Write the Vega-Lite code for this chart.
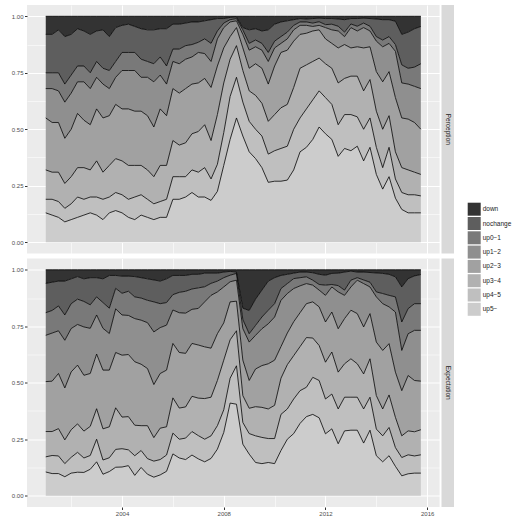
{
"$schema": "https://vega.github.io/schema/vega-lite/v6.json",
"background": "white",
"padding": {"left": 8, "top": 5, "right": 5, "bottom": 5},
"config": {
  "font": "Liberation Sans",
  "view": {"stroke": null},
  "axis": {"labelFont": "Liberation Sans", "labelColor": "#4D4D4D", "labelFontSize": 6, "tickColor": "#333333", "tickSize": 2.5, "labelPadding": 1.5, "domain": false, "title": null, "gridColor": "#FFFFFF"},
  "legend": {"labelColor": "#1A1A1A", "labelFont": "Liberation Sans"}
},
"datasets": {"d": [
{"P":"Perception","y":2001,"up5−":0.13,"up4−5":0.06,"up3−4":0.13,"up2−3":0.23,"up1−2":0.13,"up0−1":0.07,"nochange":0.17,"down":0.08},
{"P":"Perception","y":2001.25,"up5−":0.12,"up4−5":0.07,"up3−4":0.12,"up2−3":0.22,"up1−2":0.15,"up0−1":0.07,"nochange":0.17,"down":0.08},
{"P":"Perception","y":2001.5,"up5−":0.11,"up4−5":0.07,"up3−4":0.13,"up2−3":0.22,"up1−2":0.14,"up0−1":0.08,"nochange":0.19,"down":0.06},
{"P":"Perception","y":2001.75,"up5−":0.09,"up4−5":0.06,"up3−4":0.11,"up2−3":0.20,"up1−2":0.16,"up0−1":0.08,"nochange":0.21,"down":0.09},
{"P":"Perception","y":2002,"up5−":0.10,"up4−5":0.07,"up3−4":0.12,"up2−3":0.21,"up1−2":0.16,"up0−1":0.08,"nochange":0.18,"down":0.08},
{"P":"Perception","y":2002.25,"up5−":0.11,"up4−5":0.09,"up3−4":0.13,"up2−3":0.24,"up1−2":0.14,"up0−1":0.07,"nochange":0.165,"down":0.055},
{"P":"Perception","y":2002.5,"up5−":0.12,"up4−5":0.07,"up3−4":0.14,"up2−3":0.21,"up1−2":0.17,"up0−1":0.07,"nochange":0.155,"down":0.065},
{"P":"Perception","y":2002.75,"up5−":0.13,"up4−5":0.07,"up3−4":0.12,"up2−3":0.20,"up1−2":0.16,"up0−1":0.07,"nochange":0.17,"down":0.08},
{"P":"Perception","y":2003,"up5−":0.12,"up4−5":0.08,"up3−4":0.16,"up2−3":0.23,"up1−2":0.14,"up0−1":0.07,"nochange":0.135,"down":0.065},
{"P":"Perception","y":2003.25,"up5−":0.10,"up4−5":0.09,"up3−4":0.12,"up2−3":0.24,"up1−2":0.15,"up0−1":0.07,"nochange":0.17,"down":0.06},
{"P":"Perception","y":2003.5,"up5−":0.13,"up4−5":0.07,"up3−4":0.14,"up2−3":0.22,"up1−2":0.12,"up0−1":0.08,"nochange":0.15,"down":0.09},
{"P":"Perception","y":2003.75,"up5−":0.14,"up4−5":0.08,"up3−4":0.15,"up2−3":0.24,"up1−2":0.12,"up0−1":0.07,"nochange":0.15,"down":0.05},
{"P":"Perception","y":2004,"up5−":0.13,"up4−5":0.08,"up3−4":0.15,"up2−3":0.23,"up1−2":0.17,"up0−1":0.08,"nochange":0.12,"down":0.04},
{"P":"Perception","y":2004.25,"up5−":0.11,"up4−5":0.08,"up3−4":0.15,"up2−3":0.25,"up1−2":0.17,"up0−1":0.08,"nochange":0.125,"down":0.035},
{"P":"Perception","y":2004.5,"up5−":0.10,"up4−5":0.10,"up3−4":0.14,"up2−3":0.24,"up1−2":0.18,"up0−1":0.08,"nochange":0.115,"down":0.045},
{"P":"Perception","y":2004.75,"up5−":0.12,"up4−5":0.09,"up3−4":0.13,"up2−3":0.24,"up1−2":0.15,"up0−1":0.08,"nochange":0.135,"down":0.055},
{"P":"Perception","y":2005,"up5−":0.11,"up4−5":0.08,"up3−4":0.13,"up2−3":0.24,"up1−2":0.17,"up0−1":0.07,"nochange":0.14,"down":0.06},
{"P":"Perception","y":2005.25,"up5−":0.10,"up4−5":0.07,"up3−4":0.12,"up2−3":0.22,"up1−2":0.20,"up0−1":0.08,"nochange":0.15,"down":0.06},
{"P":"Perception","y":2005.5,"up5−":0.11,"up4−5":0.07,"up3−4":0.16,"up2−3":0.25,"up1−2":0.15,"up0−1":0.08,"nochange":0.125,"down":0.055},
{"P":"Perception","y":2005.75,"up5−":0.11,"up4−5":0.08,"up3−4":0.15,"up2−3":0.22,"up1−2":0.14,"up0−1":0.08,"nochange":0.165,"down":0.055},
{"P":"Perception","y":2006,"up5−":0.19,"up4−5":0.10,"up3−4":0.16,"up2−3":0.23,"up1−2":0.12,"up0−1":0.055,"nochange":0.11,"down":0.035},
{"P":"Perception","y":2006.25,"up5−":0.19,"up4−5":0.10,"up3−4":0.14,"up2−3":0.23,"up1−2":0.13,"up0−1":0.065,"nochange":0.11,"down":0.035},
{"P":"Perception","y":2006.5,"up5−":0.20,"up4−5":0.09,"up3−4":0.15,"up2−3":0.24,"up1−2":0.13,"up0−1":0.06,"nochange":0.10,"down":0.03},
{"P":"Perception","y":2006.75,"up5−":0.22,"up4−5":0.10,"up3−4":0.16,"up2−3":0.22,"up1−2":0.12,"up0−1":0.055,"nochange":0.10,"down":0.025},
{"P":"Perception","y":2007,"up5−":0.20,"up4−5":0.11,"up3−4":0.18,"up2−3":0.215,"up1−2":0.135,"up0−1":0.045,"nochange":0.09,"down":0.025},
{"P":"Perception","y":2007.25,"up5−":0.20,"up4−5":0.13,"up3−4":0.19,"up2−3":0.205,"up1−2":0.11,"up0−1":0.065,"nochange":0.08,"down":0.02},
{"P":"Perception","y":2007.5,"up5−":0.185,"up4−5":0.095,"up3−4":0.17,"up2−3":0.235,"up1−2":0.115,"up0−1":0.08,"nochange":0.105,"down":0.015},
{"P":"Perception","y":2007.75,"up5−":0.225,"up4−5":0.12,"up3−4":0.22,"up2−3":0.215,"up1−2":0.12,"up0−1":0.035,"nochange":0.055,"down":0.01},
{"P":"Perception","y":2008,"up5−":0.34,"up4−5":0.145,"up3−4":0.22,"up2−3":0.155,"up1−2":0.09,"up0−1":0.02,"nochange":0.02,"down":0.01},
{"P":"Perception","y":2008.25,"up5−":0.455,"up4−5":0.19,"up3−4":0.165,"up2−3":0.10,"up1−2":0.065,"up0−1":0.01,"nochange":0.01,"down":0.005},
{"P":"Perception","y":2008.5,"up5−":0.55,"up4−5":0.18,"up3−4":0.14,"up2−3":0.08,"up1−2":0.03,"up0−1":0.01,"nochange":0.007,"down":0.003},
{"P":"Perception","y":2008.75,"up5−":0.47,"up4−5":0.15,"up3−4":0.14,"up2−3":0.10,"up1−2":0.06,"up0−1":0.02,"nochange":0.01,"down":0.05},
{"P":"Perception","y":2009,"up5−":0.40,"up4−5":0.135,"up3−4":0.135,"up2−3":0.10,"up1−2":0.08,"up0−1":0.03,"nochange":0.06,"down":0.06},
{"P":"Perception","y":2009.25,"up5−":0.37,"up4−5":0.13,"up3−4":0.15,"up2−3":0.14,"up1−2":0.075,"up0−1":0.03,"nochange":0.05,"down":0.055},
{"P":"Perception","y":2009.5,"up5−":0.33,"up4−5":0.14,"up3−4":0.145,"up2−3":0.155,"up1−2":0.08,"up0−1":0.03,"nochange":0.055,"down":0.065},
{"P":"Perception","y":2009.75,"up5−":0.265,"up4−5":0.125,"up3−4":0.145,"up2−3":0.165,"up1−2":0.10,"up0−1":0.04,"nochange":0.10,"down":0.06},
{"P":"Perception","y":2010,"up5−":0.27,"up4−5":0.135,"up3−4":0.16,"up2−3":0.215,"up1−2":0.08,"up0−1":0.03,"nochange":0.075,"down":0.035},
{"P":"Perception","y":2010.25,"up5−":0.27,"up4−5":0.145,"up3−4":0.18,"up2−3":0.245,"up1−2":0.04,"up0−1":0.03,"nochange":0.065,"down":0.025},
{"P":"Perception","y":2010.5,"up5−":0.275,"up4−5":0.15,"up3−4":0.185,"up2−3":0.24,"up1−2":0.05,"up0−1":0.03,"nochange":0.05,"down":0.02},
{"P":"Perception","y":2010.75,"up5−":0.32,"up4−5":0.18,"up3−4":0.185,"up2−3":0.205,"up1−2":0.05,"up0−1":0.02,"nochange":0.025,"down":0.015},
{"P":"Perception","y":2011,"up5−":0.40,"up4−5":0.15,"up3−4":0.22,"up2−3":0.15,"up1−2":0.04,"up0−1":0.015,"nochange":0.015,"down":0.01},
{"P":"Perception","y":2011.25,"up5−":0.42,"up4−5":0.17,"up3−4":0.195,"up2−3":0.14,"up1−2":0.035,"up0−1":0.015,"nochange":0.013,"down":0.012},
{"P":"Perception","y":2011.5,"up5−":0.455,"up4−5":0.175,"up3−4":0.17,"up2−3":0.135,"up1−2":0.02,"up0−1":0.015,"nochange":0.02,"down":0.01},
{"P":"Perception","y":2011.75,"up5−":0.51,"up4−5":0.16,"up3−4":0.145,"up2−3":0.125,"up1−2":0.02,"up0−1":0.016,"nochange":0.016,"down":0.008},
{"P":"Perception","y":2012,"up5−":0.48,"up4−5":0.16,"up3−4":0.15,"up2−3":0.11,"up1−2":0.05,"up0−1":0.013,"nochange":0.027,"down":0.01},
{"P":"Perception","y":2012.25,"up5−":0.455,"up4−5":0.155,"up3−4":0.16,"up2−3":0.11,"up1−2":0.06,"up0−1":0.025,"nochange":0.025,"down":0.01},
{"P":"Perception","y":2012.5,"up5−":0.38,"up4−5":0.14,"up3−4":0.185,"up2−3":0.155,"up1−2":0.075,"up0−1":0.021,"nochange":0.032,"down":0.012},
{"P":"Perception","y":2012.75,"up5−":0.415,"up4−5":0.15,"up3−4":0.16,"up2−3":0.15,"up1−2":0.035,"up0−1":0.02,"nochange":0.055,"down":0.015},
{"P":"Perception","y":2013,"up5−":0.405,"up4−5":0.16,"up3−4":0.17,"up2−3":0.125,"up1−2":0.09,"up0−1":0.016,"nochange":0.024,"down":0.01},
{"P":"Perception","y":2013.25,"up5−":0.425,"up4−5":0.13,"up3−4":0.18,"up2−3":0.13,"up1−2":0.07,"up0−1":0.021,"nochange":0.034,"down":0.01},
{"P":"Perception","y":2013.5,"up5−":0.36,"up4−5":0.14,"up3−4":0.17,"up2−3":0.19,"up1−2":0.09,"up0−1":0.02,"nochange":0.022,"down":0.008},
{"P":"Perception","y":2013.75,"up5−":0.42,"up4−5":0.13,"up3−4":0.17,"up2−3":0.145,"up1−2":0.07,"up0−1":0.021,"nochange":0.034,"down":0.01},
{"P":"Perception","y":2014,"up5−":0.30,"up4−5":0.12,"up3−4":0.16,"up2−3":0.175,"up1−2":0.135,"up0−1":0.02,"nochange":0.078,"down":0.012},
{"P":"Perception","y":2014.25,"up5−":0.235,"up4−5":0.095,"up3−4":0.17,"up2−3":0.21,"up1−2":0.155,"up0−1":0.03,"nochange":0.09,"down":0.015},
{"P":"Perception","y":2014.5,"up5−":0.29,"up4−5":0.13,"up3−4":0.14,"up2−3":0.195,"up1−2":0.125,"up0−1":0.03,"nochange":0.075,"down":0.015},
{"P":"Perception","y":2014.75,"up5−":0.195,"up4−5":0.085,"up3−4":0.12,"up2−3":0.24,"up1−2":0.205,"up0−1":0.03,"nochange":0.103,"down":0.022},
{"P":"Perception","y":2015,"up5−":0.145,"up4−5":0.075,"up3−4":0.11,"up2−3":0.22,"up1−2":0.155,"up0−1":0.08,"nochange":0.135,"down":0.08},
{"P":"Perception","y":2015.25,"up5−":0.13,"up4−5":0.08,"up3−4":0.11,"up2−3":0.225,"up1−2":0.155,"up0−1":0.07,"nochange":0.16,"down":0.07},
{"P":"Perception","y":2015.5,"up5−":0.13,"up4−5":0.08,"up3−4":0.10,"up2−3":0.22,"up1−2":0.16,"up0−1":0.085,"nochange":0.17,"down":0.055},
{"P":"Perception","y":2015.75,"up5−":0.13,"up4−5":0.075,"up3−4":0.095,"up2−3":0.20,"up1−2":0.18,"up0−1":0.11,"nochange":0.165,"down":0.045},
{"P":"Expectation","y":2001,"up5−":0.105,"up4−5":0.067,"up3−4":0.112,"up2−3":0.221,"up1−2":0.205,"up0−1":0.10,"nochange":0.13,"down":0.06},
{"P":"Expectation","y":2001.25,"up5−":0.098,"up4−5":0.08,"up3−4":0.106,"up2−3":0.223,"up1−2":0.213,"up0−1":0.10,"nochange":0.125,"down":0.055},
{"P":"Expectation","y":2001.5,"up5−":0.098,"up4−5":0.078,"up3−4":0.121,"up2−3":0.244,"up1−2":0.189,"up0−1":0.11,"nochange":0.11,"down":0.05},
{"P":"Expectation","y":2001.75,"up5−":0.084,"up4−5":0.058,"up3−4":0.105,"up2−3":0.23,"up1−2":0.211,"up0−1":0.112,"nochange":0.15,"down":0.05},
{"P":"Expectation","y":2002,"up5−":0.10,"up4−5":0.07,"up3−4":0.122,"up2−3":0.256,"up1−2":0.192,"up0−1":0.11,"nochange":0.11,"down":0.04},
{"P":"Expectation","y":2002.25,"up5−":0.104,"up4−5":0.088,"up3−4":0.126,"up2−3":0.26,"up1−2":0.18,"up0−1":0.112,"nochange":0.10,"down":0.03},
{"P":"Expectation","y":2002.5,"up5−":0.103,"up4−5":0.064,"up3−4":0.119,"up2−3":0.247,"up1−2":0.214,"up0−1":0.113,"nochange":0.10,"down":0.04},
{"P":"Expectation","y":2002.75,"up5−":0.117,"up4−5":0.061,"up3−4":0.129,"up2−3":0.234,"up1−2":0.20,"up0−1":0.104,"nochange":0.12,"down":0.035},
{"P":"Expectation","y":2003,"up5−":0.15,"up4−5":0.10,"up3−4":0.135,"up2−3":0.242,"up1−2":0.173,"up0−1":0.08,"nochange":0.085,"down":0.035},
{"P":"Expectation","y":2003.25,"up5−":0.095,"up4−5":0.063,"up3−4":0.138,"up2−3":0.26,"up1−2":0.185,"up0−1":0.114,"nochange":0.105,"down":0.04},
{"P":"Expectation","y":2003.5,"up5−":0.107,"up4−5":0.061,"up3−4":0.137,"up2−3":0.251,"up1−2":0.162,"up0−1":0.112,"nochange":0.145,"down":0.025},
{"P":"Expectation","y":2003.75,"up5−":0.126,"up4−5":0.079,"up3−4":0.184,"up2−3":0.245,"up1−2":0.193,"up0−1":0.091,"nochange":0.057,"down":0.025},
{"P":"Expectation","y":2004,"up5−":0.127,"up4−5":0.081,"up3−4":0.14,"up2−3":0.274,"up1−2":0.178,"up0−1":0.096,"nochange":0.076,"down":0.028},
{"P":"Expectation","y":2004.25,"up5−":0.133,"up4−5":0.07,"up3−4":0.147,"up2−3":0.275,"up1−2":0.173,"up0−1":0.107,"nochange":0.067,"down":0.028},
{"P":"Expectation","y":2004.5,"up5−":0.09,"up4−5":0.087,"up3−4":0.135,"up2−3":0.281,"up1−2":0.191,"up0−1":0.096,"nochange":0.09,"down":0.03},
{"P":"Expectation","y":2004.75,"up5−":0.125,"up4−5":0.075,"up3−4":0.11,"up2−3":0.272,"up1−2":0.195,"up0−1":0.098,"nochange":0.09,"down":0.035},
{"P":"Expectation","y":2005,"up5−":0.095,"up4−5":0.069,"up3−4":0.146,"up2−3":0.253,"up1−2":0.203,"up0−1":0.099,"nochange":0.095,"down":0.04},
{"P":"Expectation","y":2005.25,"up5−":0.082,"up4−5":0.071,"up3−4":0.104,"up2−3":0.235,"up1−2":0.233,"up0−1":0.133,"nochange":0.097,"down":0.045},
{"P":"Expectation","y":2005.5,"up5−":0.092,"up4−5":0.068,"up3−4":0.139,"up2−3":0.242,"up1−2":0.203,"up0−1":0.106,"nochange":0.10,"down":0.05},
{"P":"Expectation","y":2005.75,"up5−":0.108,"up4−5":0.072,"up3−4":0.125,"up2−3":0.251,"up1−2":0.199,"up0−1":0.10,"nochange":0.105,"down":0.04},
{"P":"Expectation","y":2006,"up5−":0.185,"up4−5":0.092,"up3−4":0.156,"up2−3":0.241,"up1−2":0.148,"up0−1":0.068,"nochange":0.085,"down":0.025},
{"P":"Expectation","y":2006.25,"up5−":0.167,"up4−5":0.083,"up3−4":0.138,"up2−3":0.246,"up1−2":0.176,"up0−1":0.09,"nochange":0.075,"down":0.025},
{"P":"Expectation","y":2006.5,"up5−":0.16,"up4−5":0.095,"up3−4":0.138,"up2−3":0.237,"up1−2":0.178,"up0−1":0.097,"nochange":0.07,"down":0.025},
{"P":"Expectation","y":2006.75,"up5−":0.18,"up4−5":0.104,"up3−4":0.156,"up2−3":0.234,"up1−2":0.151,"up0−1":0.09,"nochange":0.065,"down":0.02},
{"P":"Expectation","y":2007,"up5−":0.163,"up4−5":0.103,"up3−4":0.166,"up2−3":0.235,"up1−2":0.162,"up0−1":0.091,"nochange":0.06,"down":0.02},
{"P":"Expectation","y":2007.25,"up5−":0.15,"up4−5":0.10,"up3−4":0.18,"up2−3":0.229,"up1−2":0.199,"up0−1":0.067,"nochange":0.06,"down":0.015},
{"P":"Expectation","y":2007.5,"up5−":0.165,"up4−5":0.10,"up3−4":0.171,"up2−3":0.217,"up1−2":0.234,"up0−1":0.053,"nochange":0.045,"down":0.015},
{"P":"Expectation","y":2007.75,"up5−":0.206,"up4−5":0.104,"up3−4":0.20,"up2−3":0.207,"up1−2":0.185,"up0−1":0.048,"nochange":0.035,"down":0.015},
{"P":"Expectation","y":2008,"up5−":0.28,"up4−5":0.10,"up3−4":0.22,"up2−3":0.165,"up1−2":0.159,"up0−1":0.041,"nochange":0.025,"down":0.01},
{"P":"Expectation","y":2008.25,"up5−":0.41,"up4−5":0.11,"up3−4":0.17,"up2−3":0.168,"up1−2":0.089,"up0−1":0.029,"nochange":0.017,"down":0.007},
{"P":"Expectation","y":2008.5,"up5−":0.405,"up4−5":0.17,"up3−4":0.155,"up2−3":0.131,"up1−2":0.093,"up0−1":0.03,"nochange":0.006,"down":0.01},
{"P":"Expectation","y":2008.75,"up5−":0.228,"up4−5":0.096,"up3−4":0.119,"up2−3":0.157,"up1−2":0.14,"up0−1":0.04,"nochange":0.05,"down":0.17},
{"P":"Expectation","y":2009,"up5−":0.184,"up4−5":0.091,"up3−4":0.112,"up2−3":0.123,"up1−2":0.17,"up0−1":0.037,"nochange":0.103,"down":0.18},
{"P":"Expectation","y":2009.25,"up5−":0.147,"up4−5":0.118,"up3−4":0.129,"up2−3":0.167,"up1−2":0.149,"up0−1":0.044,"nochange":0.116,"down":0.13},
{"P":"Expectation","y":2009.5,"up5−":0.142,"up4−5":0.116,"up3−4":0.133,"up2−3":0.185,"up1−2":0.163,"up0−1":0.052,"nochange":0.119,"down":0.09},
{"P":"Expectation","y":2009.75,"up5−":0.147,"up4−5":0.106,"up3−4":0.131,"up2−3":0.20,"up1−2":0.177,"up0−1":0.06,"nochange":0.129,"down":0.05},
{"P":"Expectation","y":2010,"up5−":0.142,"up4−5":0.111,"up3−4":0.147,"up2−3":0.20,"up1−2":0.191,"up0−1":0.059,"nochange":0.115,"down":0.035},
{"P":"Expectation","y":2010.25,"up5−":0.20,"up4−5":0.16,"up3−4":0.16,"up2−3":0.14,"up1−2":0.205,"up0−1":0.052,"nochange":0.058,"down":0.025},
{"P":"Expectation","y":2010.5,"up5−":0.25,"up4−5":0.134,"up3−4":0.196,"up2−3":0.14,"up1−2":0.175,"up0−1":0.044,"nochange":0.041,"down":0.02},
{"P":"Expectation","y":2010.75,"up5−":0.275,"up4−5":0.153,"up3−4":0.192,"up2−3":0.15,"up1−2":0.147,"up0−1":0.044,"nochange":0.024,"down":0.015},
{"P":"Expectation","y":2011,"up5−":0.32,"up4−5":0.145,"up3−4":0.195,"up2−3":0.15,"up1−2":0.119,"up0−1":0.036,"nochange":0.025,"down":0.01},
{"P":"Expectation","y":2011.25,"up5−":0.35,"up4−5":0.13,"up3−4":0.22,"up2−3":0.15,"up1−2":0.089,"up0−1":0.03,"nochange":0.021,"down":0.01},
{"P":"Expectation","y":2011.5,"up5−":0.36,"up4−5":0.164,"up3−4":0.174,"up2−3":0.16,"up1−2":0.074,"up0−1":0.022,"nochange":0.033,"down":0.013},
{"P":"Expectation","y":2011.75,"up5−":0.345,"up4−5":0.165,"up3−4":0.155,"up2−3":0.171,"up1−2":0.074,"up0−1":0.025,"nochange":0.045,"down":0.02},
{"P":"Expectation","y":2012,"up5−":0.274,"up4−5":0.154,"up3−4":0.163,"up2−3":0.178,"up1−2":0.118,"up0−1":0.045,"nochange":0.044,"down":0.024},
{"P":"Expectation","y":2012.25,"up5−":0.296,"up4−5":0.154,"up3−4":0.186,"up2−3":0.177,"up1−2":0.111,"up0−1":0.011,"nochange":0.049,"down":0.016},
{"P":"Expectation","y":2012.5,"up5−":0.23,"up4−5":0.154,"up3−4":0.163,"up2−3":0.192,"up1−2":0.163,"up0−1":0.028,"nochange":0.055,"down":0.015},
{"P":"Expectation","y":2012.75,"up5−":0.287,"up4−5":0.149,"up3−4":0.148,"up2−3":0.20,"up1−2":0.103,"up0−1":0.023,"nochange":0.08,"down":0.01},
{"P":"Expectation","y":2013,"up5−":0.29,"up4−5":0.146,"up3−4":0.17,"up2−3":0.215,"up1−2":0.103,"up0−1":0.03,"nochange":0.04,"down":0.006},
{"P":"Expectation","y":2013.25,"up5−":0.29,"up4−5":0.146,"up3−4":0.148,"up2−3":0.222,"up1−2":0.148,"up0−1":0.011,"nochange":0.025,"down":0.01},
{"P":"Expectation","y":2013.5,"up5−":0.233,"up4−5":0.151,"up3−4":0.155,"up2−3":0.208,"up1−2":0.192,"up0−1":0.016,"nochange":0.035,"down":0.01},
{"P":"Expectation","y":2013.75,"up5−":0.29,"up4−5":0.146,"up3−4":0.17,"up2−3":0.20,"up1−2":0.118,"up0−1":0.021,"nochange":0.043,"down":0.012},
{"P":"Expectation","y":2014,"up5−":0.177,"up4−5":0.118,"up3−4":0.148,"up2−3":0.237,"up1−2":0.20,"up0−1":0.022,"nochange":0.084,"down":0.014},
{"P":"Expectation","y":2014.25,"up5−":0.15,"up4−5":0.115,"up3−4":0.119,"up2−3":0.259,"up1−2":0.207,"up0−1":0.045,"nochange":0.089,"down":0.016},
{"P":"Expectation","y":2014.5,"up5−":0.177,"up4−5":0.125,"up3−4":0.144,"up2−3":0.227,"up1−2":0.163,"up0−1":0.051,"nochange":0.093,"down":0.02},
{"P":"Expectation","y":2014.75,"up5−":0.13,"up4−5":0.083,"up3−4":0.134,"up2−3":0.20,"up1−2":0.266,"up0−1":0.067,"nochange":0.089,"down":0.031},
{"P":"Expectation","y":2015,"up5−":0.088,"up4−5":0.081,"up3−4":0.096,"up2−3":0.20,"up1−2":0.178,"up0−1":0.126,"nochange":0.155,"down":0.076},
{"P":"Expectation","y":2015.25,"up5−":0.097,"up4−5":0.084,"up3−4":0.106,"up2−3":0.245,"up1−2":0.185,"up0−1":0.111,"nochange":0.133,"down":0.039},
{"P":"Expectation","y":2015.5,"up5−":0.10,"up4−5":0.076,"up3−4":0.107,"up2−3":0.227,"up1−2":0.222,"up0−1":0.118,"nochange":0.123,"down":0.027},
{"P":"Expectation","y":2015.75,"up5−":0.10,"up4−5":0.081,"up3−4":0.111,"up2−3":0.215,"up1−2":0.225,"up0−1":0.118,"nochange":0.129,"down":0.021}
]},
"spacing": 4.5,
"vconcat": [
 {"spacing": 1.5, "hconcat": [
  {"width": 412.6, "height": 248.5,
   "view": {"fill": "#EBEBEB", "stroke": null},
   "data": {"name": "d"},
   "transform": [{"filter": "datum.P === 'Perception'"}, {"fold": ["down","nochange","up0−1","up1−2","up2−3","up3−4","up4−5","up5−"], "as": ["cat","share"]}],
   "encoding": {
    "x": {"field": "y", "type": "quantitative", "scale": {"domain": [2000.2625, 2016.4875], "nice": false, "zero": false},
          "axis": {"values": [2002,2004,2006,2008,2010,2012,2014,2016], "labels": false, "ticks": false, "grid": true,
                   "gridWidth": {"condition": {"test": "datum.value % 4 == 0", "value": 1.1}, "value": 0.55}}},
    "y": {"field": "share", "type": "quantitative", "stack": "zero", "scale": {"domain": [-0.05, 1.05], "nice": false, "zero": false},
          "axis": {"values": [0,0.125,0.25,0.375,0.5,0.625,0.75,0.875,1], "grid": true, "minExtent": 19, "maxExtent": 19,
                   "labelExpr": "(datum.value*8) % 2 == 0 ? format(datum.value, '.2f') : ''",
                   "gridWidth": {"condition": {"test": "(datum.value*8) % 2 == 0", "value": 1.1}, "value": 0.55},
                   "tickOpacity": {"condition": {"test": "(datum.value*8) % 2 == 0", "value": 1}, "value": 0}}}
   },
   "layer": [
    {"mark": {"type": "area", "opacity": 1},
     "encoding": {
      "color": {"field": "cat", "type": "nominal",
                "scale": {"domain": ["down","nochange","up0−1","up1−2","up2−3","up3−4","up4−5","up5−"], "range": ["#333333","#5E5E5E","#797979","#8F8F8F","#A1A1A1","#B1B1B1","#BFBFBF","#CCCCCC"]},
                "legend": {"title": null, "orient": "none", "legendX": 440.7, "legendY": 197.7, "padding": 0, "symbolType": "square", "symbolSize": 169, "symbolStrokeWidth": 0, "symbolOpacity": 1, "rowPadding": 1.3, "labelFontSize": 6.5, "labelOffset": 2, "labelColor": "#1A1A1A"}},
      "order": {"field": "cat", "sort": "descending"}}},
    {"mark": {"type": "line", "color": "black", "strokeWidth": 0.8},
     "encoding": {"detail": {"field": "cat", "type": "nominal"}}}
   ]
  },
  {"width": 12.5, "height": 248.5,
   "view": {"fill": "#D9D9D9", "stroke": null},
   "data": {"values": [{"s": "Perception"}]},
   "mark": {"type": "text", "angle": 90, "fontSize": 6.5, "color": "#1A1A1A", "font": "Liberation Sans"},
   "encoding": {"text": {"field": "s"}}
  }
 ]},
 {"spacing": 1.5, "hconcat": [
  {"width": 412.6, "height": 248.5,
   "view": {"fill": "#EBEBEB", "stroke": null},
   "data": {"name": "d"},
   "transform": [{"filter": "datum.P === 'Expectation'"}, {"fold": ["down","nochange","up0−1","up1−2","up2−3","up3−4","up4−5","up5−"], "as": ["cat","share"]}],
   "encoding": {
    "x": {"field": "y", "type": "quantitative", "scale": {"domain": [2000.2625, 2016.4875], "nice": false, "zero": false},
          "axis": {"values": [2002,2004,2006,2008,2010,2012,2014,2016], "grid": true, "format": "d", "labelPadding": 1,
                   "labelExpr": "datum.value % 4 == 0 ? datum.label : ''",
                   "gridWidth": {"condition": {"test": "datum.value % 4 == 0", "value": 1.1}, "value": 0.55},
                   "tickOpacity": {"condition": {"test": "datum.value % 4 == 0", "value": 1}, "value": 0}}},
    "y": {"field": "share", "type": "quantitative", "stack": "zero", "scale": {"domain": [-0.05, 1.05], "nice": false, "zero": false},
          "axis": {"values": [0,0.125,0.25,0.375,0.5,0.625,0.75,0.875,1], "grid": true, "minExtent": 19, "maxExtent": 19,
                   "labelExpr": "(datum.value*8) % 2 == 0 ? format(datum.value, '.2f') : ''",
                   "gridWidth": {"condition": {"test": "(datum.value*8) % 2 == 0", "value": 1.1}, "value": 0.55},
                   "tickOpacity": {"condition": {"test": "(datum.value*8) % 2 == 0", "value": 1}, "value": 0}}}
   },
   "layer": [
    {"mark": {"type": "area", "opacity": 1},
     "encoding": {
      "color": {"field": "cat", "type": "nominal",
                "scale": {"domain": ["down","nochange","up0−1","up1−2","up2−3","up3−4","up4−5","up5−"], "range": ["#333333","#5E5E5E","#797979","#8F8F8F","#A1A1A1","#B1B1B1","#BFBFBF","#CCCCCC"]},
                "legend": {"title": null, "orient": "none", "legendX": 440.7, "legendY": 197.7, "padding": 0, "symbolType": "square", "symbolSize": 169, "symbolStrokeWidth": 0, "symbolOpacity": 1, "rowPadding": 1.3, "labelFontSize": 6.5, "labelOffset": 2, "labelColor": "#1A1A1A"}},
      "order": {"field": "cat", "sort": "descending"}}},
    {"mark": {"type": "line", "color": "black", "strokeWidth": 0.8},
     "encoding": {"detail": {"field": "cat", "type": "nominal"}}}
   ]
  },
  {"width": 12.5, "height": 248.5,
   "view": {"fill": "#D9D9D9", "stroke": null},
   "data": {"values": [{"s": "Expectation"}]},
   "mark": {"type": "text", "angle": 90, "fontSize": 6.5, "color": "#1A1A1A", "font": "Liberation Sans"},
   "encoding": {"text": {"field": "s"}}
  }
 ]}
]
}
